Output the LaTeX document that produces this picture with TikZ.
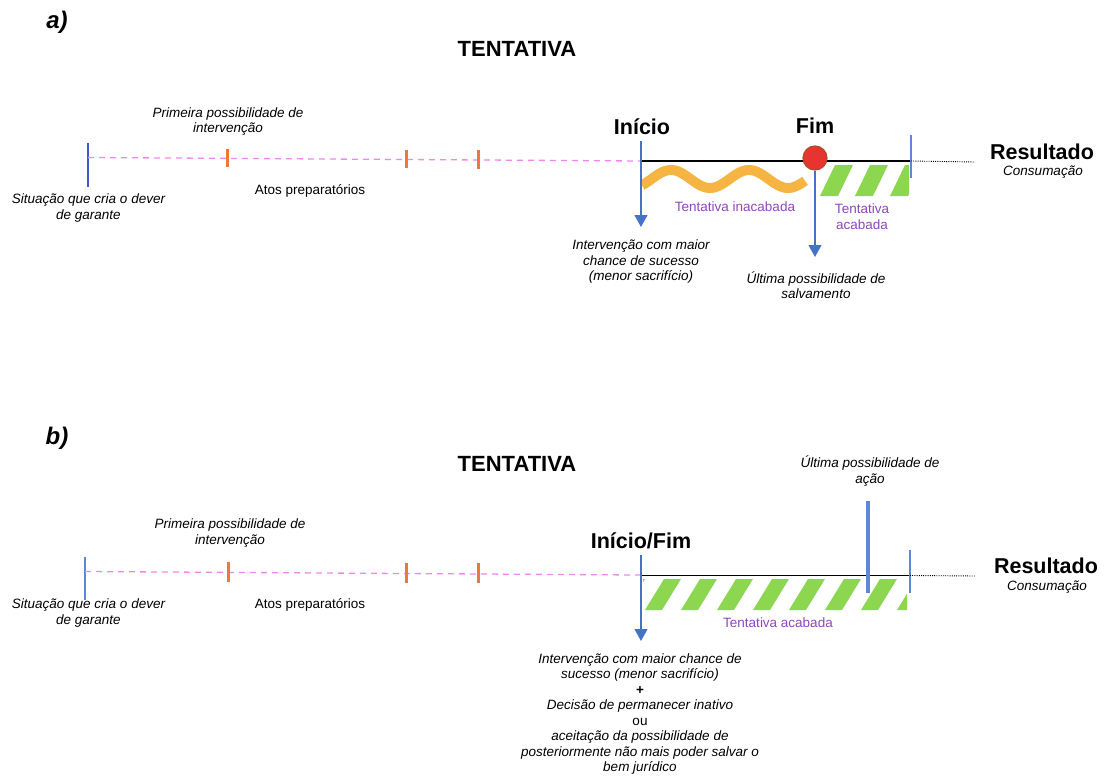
\documentclass[tikz,border=0pt]{standalone}
\usepackage{fontspec}
\setmainfont{Liberation Sans}
\usetikzlibrary{arrows.meta}
\definecolor{pinkd}{RGB}{238,135,238}
\definecolor{tickor}{RGB}{240,120,55}
\definecolor{lblue}{RGB}{95,135,215}
\definecolor{sblue}{RGB}{60,90,200}
\definecolor{ablue}{RGB}{70,115,200}
\definecolor{wavey}{RGB}{246,180,66}
\definecolor{hgreen}{RGB}{140,214,80}
\definecolor{purp}{RGB}{145,70,190}
\definecolor{redc}{RGB}{232,52,46}
\definecolor{brownc}{RGB}{170,80,40}
\begin{document}
\begin{tikzpicture}[x=1pt,y=-1pt,
  txt/.style={inner sep=0pt, align=center, font=\fontsize{13.5}{15.5}\selectfont\itshape},
  plain/.style={inner sep=0pt, align=center, font=\fontsize{13.5}{15.5}\selectfont},
  ptxt/.style={inner sep=0pt, align=center, text=purp, font=\fontsize{13.5}{16.5}\selectfont},
  big/.style={inner sep=0pt, font=\fontsize{21.5}{24}\selectfont\bfseries},
  ttl/.style={inner sep=0pt, font=\fontsize{22}{24}\selectfont\bfseries},
  pan/.style={inner sep=0pt, font=\fontsize{24}{26}\selectfont\bfseries\itshape},
  dashl/.style={pinkd, dash pattern=on 6pt off 5pt, line width=1.3pt},
  tickm/.style={tickor, line width=3pt},
  vline/.style={lblue, line width=1.3pt},
  svline/.style={sblue, line width=1.2pt},
  thickv/.style={lblue, line width=3.2pt},
  arr/.style={ablue, line width=1.2pt, -{Triangle[width=13pt,length=12pt]}},
  baseln/.style={black, line width=1.2pt},
  dotl/.style={black, dash pattern=on 1pt off 1.2pt, line width=0.9pt},
  hatchf/.style={fill=hgreen, draw=none},
  wavel/.style={wavey, line width=10pt},
  dotc/.style={circle, fill=redc, draw=brownc, line width=1.2pt, minimum size=24pt, inner sep=0pt},
]
\useasboundingbox (0,0) rectangle (1104,776);

% ================= panel a =================
\node[pan] (pa) at (57,22) {a)};
\node[ttl] (ta) at (517,49) {TENTATIVA};
\node[txt] (prima) at (228,121.5) {Primeira possibilidade de\\intervenção};
\node[txt] (sita) at (88.5,208) {Situação que cria o dever\\de garante};
\node[plain] (atosa) at (310,191) {Atos preparatórios};
\node[big] (inia) at (642,127) {Início};
\node[big] (fima) at (815,126) {Fim};
\node[big] (resa) at (1042,152) {Resultado};
\node[txt] (cona) at (1043,172) {Consumação};
\node[ptxt] (inac) at (735,207) {Tentativa inacabada};
\node[ptxt] (acaa) at (862,216.5) {Tentativa\\acabada};
\node[txt] (inta) at (641,262) {Intervenção com maior\\chance de sucesso\\(menor sacrifício)};
\node[txt] (ulta) at (816,285) {Última possibilidade de\\salvamento};

% hatch a
\begin{scope}
  \clip (820,165) rectangle (909,196);
  \foreach \s in {785,820,855,890} {
    \fill[hatchf] (\s,196) -- (\s+18,196) -- (\s+33,165) -- (\s+15,165) -- cycle;
  }
\end{scope}
% wave
\draw[wavel] plot[domain=642:805, samples=90, smooth] (\x, {179 - 9*cos(4.6154*(\x-671))});

\coordinate (sa1) at (88,143);
\coordinate (sa2) at (88,187);
\draw[svline] (sa1) -- (sa2);
\coordinate (da1) at (88,157.5);
\coordinate (da2) at (640,161);
\draw[dashl] (da1) -- (da2);
\coordinate (ka1) at (227,148.5); \coordinate (ka1b) at (227,167);
\coordinate (ka2) at (406,149.5); \coordinate (ka2b) at (406,168);
\coordinate (ka3) at (478,150);   \coordinate (ka3b) at (478,168.5);
\draw[tickm] (ka1) -- (ka1b);
\draw[tickm] (ka2) -- (ka2b);
\draw[tickm] (ka3) -- (ka3b);
\coordinate (ba1) at (641,161);
\coordinate (ba2) at (911,161);
\draw[baseln] (ba1) -- (ba2);
\coordinate (ea1) at (911,135);
\coordinate (ea2) at (911,178);
\draw[vline] (ea1) -- (ea2);
\coordinate (oa2) at (975,162);
\draw[dotl] (ba2) -- (oa2);
\coordinate (aa1) at (641,141);
\coordinate (aa2) at (641,227);
\draw[arr] (aa1) -- (aa2);
\node[dotc] (circ) at (815,158) {};
\coordinate (ca2) at (815,257);
\draw[arr] (circ.south) -- (ca2);

% ================= panel b =================
\node[pan] (pb) at (57,438) {b)};
\node[ttl] (tb) at (517,464) {TENTATIVA};
\node[txt] (ultb) at (870,471) {Última possibilidade de\\ação};
\node[txt] (primb) at (230,533) {Primeira possibilidade de\\intervenção};
\node[txt] (sitb) at (88.5,613) {Situação que cria o dever\\de garante};
\node[plain] (atosb) at (310,605) {Atos preparatórios};
\node[big] (inib) at (641,541) {Início/Fim};
\node[big] (resb) at (1046,566) {Resultado};
\node[txt] (conb) at (1047,587) {Consumação};
\node[ptxt] (acab) at (778,622.5) {Tentativa acabada};
\node[txt] (intb) at (640,714) {Intervenção com maior chance de\\sucesso (menor sacrifício)\\{\upshape\bfseries +}\\Decisão de permanecer inativo\\{\upshape ou}\\aceitação da possibilidade de\\posteriormente não mais poder salvar o\\bem jurídico};

% hatch b
\begin{scope}
  \clip (643,579) rectangle (907,610);
  \foreach \s in {609,645,681,717,753,789,825,861,897} {
    \fill[hatchf] (\s,610) -- (\s+17,610) -- (\s+36,579) -- (\s+19,579) -- cycle;
  }
\end{scope}

\coordinate (sb1) at (85,557);
\coordinate (sb2) at (85,600);
\draw[vline] (sb1) -- (sb2);
\coordinate (db1) at (85,571.5);
\coordinate (db2) at (640,575);
\draw[dashl] (db1) -- (db2);
\coordinate (kb1) at (228,562); \coordinate (kb1b) at (228,581.5);
\coordinate (kb2) at (406,563); \coordinate (kb2b) at (406,582.5);
\coordinate (kb3) at (478,563); \coordinate (kb3b) at (478,582.5);
\draw[tickm] (kb1) -- (kb1b);
\draw[tickm] (kb2) -- (kb2b);
\draw[tickm] (kb3) -- (kb3b);
\coordinate (bb1) at (641,575.5);
\coordinate (bb2) at (910,575.5);
\draw[baseln] (bb1) -- (bb2);
\coordinate (eb1) at (910,550);
\coordinate (eb2) at (910,593);
\draw[vline] (eb1) -- (eb2);
\coordinate (ob2) at (975,576);
\draw[dotl] (bb2) -- (ob2);
\coordinate (ab1) at (641,555);
\coordinate (ab2) at (641,641);
\draw[arr] (ab1) -- (ab2);
\coordinate (lb1) at (868,501);
\coordinate (lb2) at (868,593);
\draw[thickv] (lb1) -- (lb2);
\end{tikzpicture}
\end{document}
